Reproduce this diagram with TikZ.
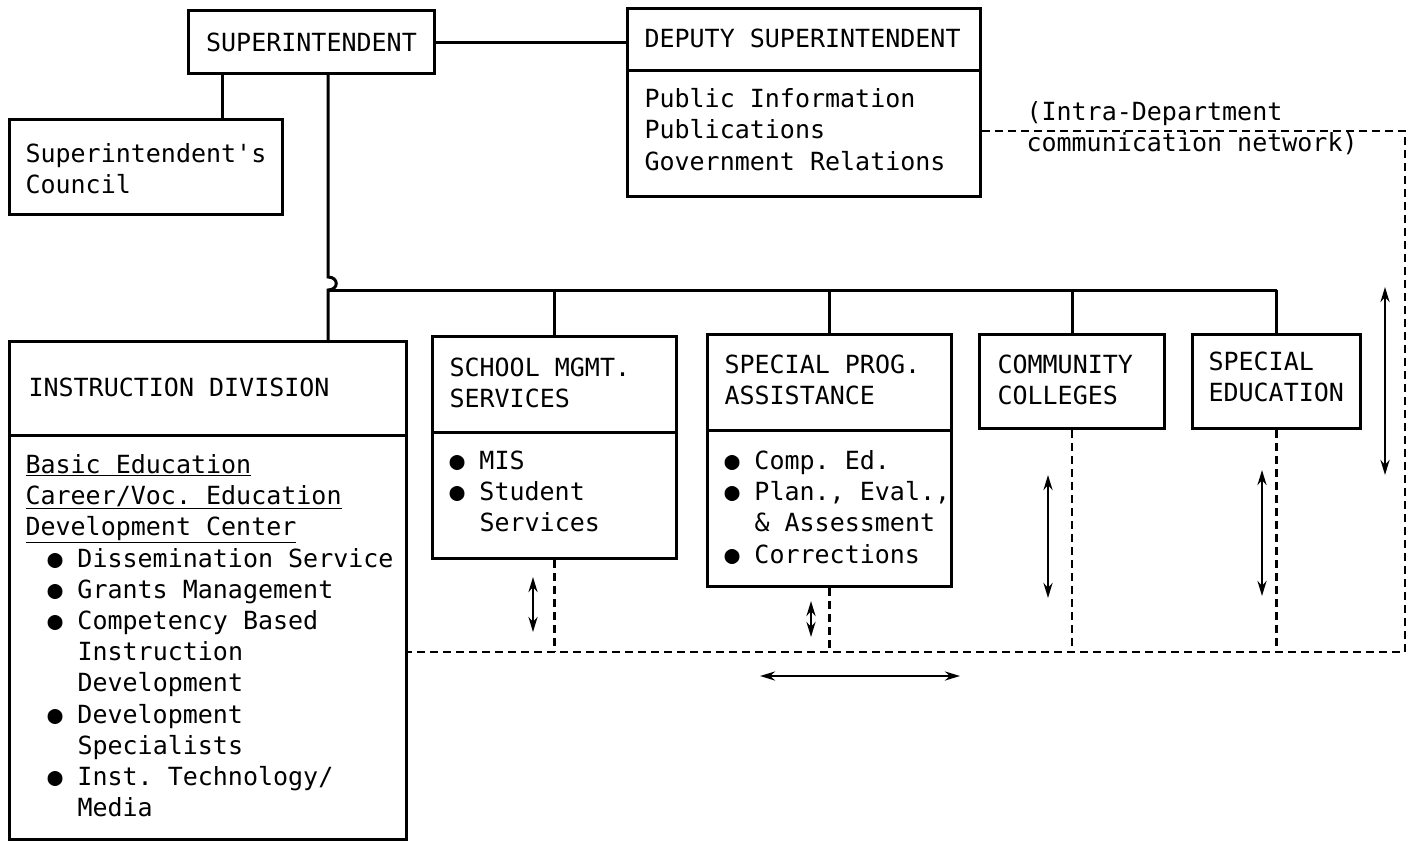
\documentclass[tikz,border=0pt]{standalone}
\usepackage{fontspec}
\setmonofont{DejaVu Sans Mono}
\usetikzlibrary{arrows.meta}
\newcommand{\Lw}{3pt}
\newcommand{\Bul}{\makebox[30pt][l]{●}}
\newcommand{\Ind}{\hspace*{30pt}}
\newcommand{\Pre}{\hspace*{22pt}}
\tikzset{Box/.style={
    draw=black,
    line width=\Lw,
    inner sep=0pt,
    anchor=north west,
    },
    Tt/.style={
    font=\ttfamily\fontsize{25}{31.2}\selectfont,
    },
    Txt/.style={
    Tt,
    inner sep=0pt,
    anchor=north west,
    align=left,
    execute at begin node=\strut,
    }
}

\begin{document}
\begin{tikzpicture}[x=1pt, y=-1pt, line width=\Lw,
    Net/.style={line width=2.5pt, dash pattern=on 8pt off 5pt},
    Arr/.style={line width=2.5pt, {Stealth[length=15pt,width=9pt]}-{Stealth[length=15pt,width=9pt]}},
]
\useasboundingbox[fill=white] (0,0) rectangle (1413,841);
% top level
\node[Box, Tt, minimum width=246pt, minimum height=63pt] (supt) at (187,9) {SUPERINTENDENT};
\node[Box, minimum width=353pt, minimum height=188pt] (deputy) at (626,7) {};
\node[Box, minimum width=273pt, minimum height=95pt] (council) at (8,118) {};
\draw (deputy.west |- 0,70) -- (deputy.east |- 0,70);
\node[Txt] (deputyt) at (643,24) {DEPUTY SUPERINTENDENT};
\node[Txt] (deputyl) at (643,87) {Public Information\\Publications\\Government Relations};
\node[Txt] (councilt) at (24,142) {Superintendent's\\Council};
% divisions
\node[Box, minimum width=397pt, minimum height=498pt] (instr) at (8,340) {};
\node[Box, minimum width=244pt, minimum height=222pt] (school) at (431,335) {};
\node[Box, minimum width=244pt, minimum height=252pt] (spec) at (706,333) {};
\node[Box, minimum width=185pt, minimum height=94pt] (comm) at (978,333) {};
\node[Box, minimum width=168pt, minimum height=94pt] (sped) at (1191,333) {};
\draw (instr.west |- 0,435) -- (instr.east |- 0,435);
\draw (school.west |- 0,432) -- (school.east |- 0,432);
\draw (spec.west |- 0,430) -- (spec.east |- 0,430);
\node[Txt] (instrt) at (27,373) {INSTRUCTION DIVISION};
\node[Txt] (instrl) at (24,453) {\underline{Basic Education}\\\underline{Career/Voc. Education}\\\underline{Development Center}\\
    \Pre\Bul Dissemination Service\\\Pre\Bul Grants Management\\\Pre\Bul Competency Based\\\Pre\Ind Instruction\\\Pre\Ind Development\\
    \Pre\Bul Development\\\Pre\Ind Specialists\\\Pre\Bul Inst. Technology/\\\Pre\Ind Media};
\node[Txt] (schoolt) at (448,356) {SCHOOL MGMT.\\SERVICES};
\node[Txt] (schooll) at (448,449) {\Bul MIS\\\Bul Student\\\Ind Services};
\node[Txt] (spect) at (723,353) {SPECIAL PROG.\\ASSISTANCE};
\node[Txt] (specl) at (723,449) {\Bul Comp. Ed.\\\Bul Plan., Eval.,\\\Ind \& Assessment\\\Bul Corrections};
\node[Txt] (commt) at (996,353) {COMMUNITY\\COLLEGES};
\node[Txt] (spedt) at (1207,350) {SPECIAL\\EDUCATION};
% lines of authority
\coordinate (bus) at (328,290);
\coordinate (cc) at (222,0);
\draw (supt.east) -- (deputy.west |- supt.east);
\draw (supt.south -| cc) -- (council.north -| cc);
\draw (supt.south -| bus) -- ([yshift=13pt]bus) .. controls +(11,0) and +(11,0) .. (bus) -- (instr.north -| bus);
\draw (bus) -- (sped.north |- bus);
\foreach \n in {school,spec,comm,sped}
    \draw (\n.north) -- (\n.north |- bus);
% communication network
\coordinate (nettop) at (1405,131);
\coordinate (netbot) at (1405,652);
\draw[Net] (deputy.east |- nettop) -- (nettop) -- (netbot) -- (instr.east |- netbot);
\foreach \n in {school,spec,comm,sped}
    \draw[Net] (\n.south) -- (\n.south |- netbot);
\node[Txt] (netl) at (1025,100) {(Intra-Department\\communication network)};
\draw[Arr] (533,577) -- (533,632);
\draw[Arr] (811,601) -- (811,637);
\draw[Arr] (1048,475) -- (1048,598);
\draw[Arr] (1262,470) -- (1262,596);
\draw[Arr] (1385,287) -- (1385,475);
\draw[Arr] (760,676) -- (960,676);
\end{tikzpicture}
\end{document}
